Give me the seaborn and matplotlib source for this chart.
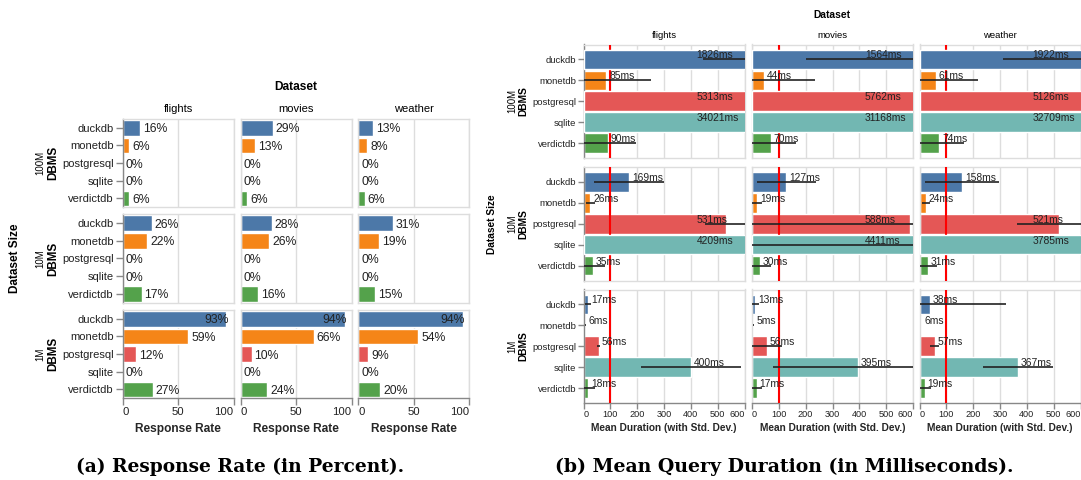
import matplotlib
matplotlib.use("Agg")
import numpy as np
import pandas as pd
import seaborn as sns
import matplotlib.pyplot as plt

# ---------------- data ----------------
DBMS = ["duckdb", "monetdb", "postgresql", "sqlite", "verdictdb"]
DATASETS = ["flights", "movies", "weather"]
SIZES = ["100M", "10M", "1M"]
COLORS = ["#4c78a8", "#f58518", "#e45756", "#72b7b2", "#54a24b"]

# response rate in percent, rows = dataset size (100M, 10M, 1M)
rate_flights = [[16, 6, 0, 0, 6], [26, 22, 0, 0, 17], [93, 59, 12, 0, 27]]
rate_movies = [[29, 13, 0, 0, 6], [28, 26, 0, 0, 16], [94, 66, 10, 0, 24]]
rate_weather = [[13, 8, 0, 0, 6], [31, 19, 0, 0, 15], [94, 54, 9, 0, 20]]

# mean query duration in ms
mean_flights = [[1826, 85, 5313, 34021, 90], [169, 26, 531, 4209, 35], [17, 6, 56, 400, 18]]
mean_movies = [[1564, 44, 5762, 31168, 70], [127, 19, 588, 4411, 30], [13, 5, 56, 395, 17]]
mean_weather = [[1922, 61, 5126, 32709, 74], [158, 24, 521, 3785, 31], [38, 6, 57, 367, 19]]

# standard deviation in ms (estimated from the visible whiskers)
std_flights = [[1382, 167, 2000, 5000, 106], [130, 17, 80, 1500, 45], [12, 2, 5, 187, 23]]
std_movies = [[1362, 192, 2000, 5000, 93], [110, 18, 600, 4500, 40], [12, 1, 55, 318, 19]]
std_weather = [[1612, 157, 2000, 5000, 93], [138, 16, 158, 1500, 36], [284, 1, 17, 131, 22]]

RATES = {"flights": rate_flights, "movies": rate_movies, "weather": rate_weather}
MEANS = {"flights": mean_flights, "movies": mean_movies, "weather": mean_weather}
STDS = {"flights": std_flights, "movies": std_movies, "weather": std_weather}

rows = []
for ds in DATASETS:
    for si, size in enumerate(SIZES):
        for di, db in enumerate(DBMS):
            rows.append(dict(dataset=ds, dsize=size, dbms=db,
                             rate=RATES[ds][si][di],
                             mean=MEANS[ds][si][di],
                             std=STDS[ds][si][di]))
df = pd.DataFrame(rows)

# ---------------- style ----------------
sns.set_theme(style="white")
plt.rcParams["font.family"] = ["Liberation Sans", "DejaVu Sans"]
plt.rcParams["text.color"] = "#000000"

W, H = 1081, 480
fig = plt.figure(figsize=(W / 100, H / 100), dpi=100)


def px_axes(x0, y0, w, h):
    return fig.add_axes([x0 / W, 1 - (y0 + h) / H, w / W, h / H])


def fx(x):
    return x / W


def fy(y):
    return 1 - y / H


GRID = "#dddddd"
DOMAIN = "#888888"


def style_axes(ax, ci, ri, xmax, ticks, lab_size, num_size, tick_len, pad):
    ax.set_xlim(0, xmax)
    ax.set_xticks(ticks, labels=[str(t) for t in ticks])
    ax.grid(axis="x", color=GRID, lw=1)
    ax.grid(axis="y", visible=False)
    ax.set_axisbelow(True)
    for sp in ax.spines.values():
        sp.set_color(GRID)
        sp.set_linewidth(1)
    if ci == 0:
        ax.spines["left"].set_color(DOMAIN)
    if ri == 2:
        ax.spines["bottom"].set_color(DOMAIN)
    ax.tick_params(axis="y", left=(ci == 0), labelleft=(ci == 0), length=tick_len,
                   width=1, color=DOMAIN, labelsize=lab_size, pad=pad, labelcolor="#222")
    ax.tick_params(axis="x", bottom=(ri == 2), labelbottom=(ri == 2), length=tick_len,
                   width=1, color=DOMAIN, labelsize=num_size, pad=pad, labelcolor="#222")
    mticks = ax.xaxis.get_major_ticks()
    mticks[0].label1.set_horizontalalignment("left")
    mticks[-1].label1.set_horizontalalignment("right")
    ax.set_ylabel("")
    ax.set_xlabel("")


# ---------------- (a) response rate ----------------
LX = [122.7, 240.5, 358.2]
LW = 111
LY = [119, 214.3, 310]
LH = 88.3

for ri, size in enumerate(SIZES):
    for ci, ds in enumerate(DATASETS):
        ax = px_axes(LX[ci], LY[ri], LW, LH)
        sub = df[(df.dataset == ds) & (df.dsize == size)]
        sns.barplot(data=sub, x="rate", y="dbms", hue="dbms", order=DBMS, hue_order=DBMS,
                    palette=COLORS, saturation=1, width=0.9, legend=False,
                    errorbar=None, orient="h", ax=ax)
        style_axes(ax, ci, ri, 100, [0, 50, 100], 8.0, 8.2, 5, 1.5)
        for i, v in enumerate(sub["rate"]):
            ax.annotate(f"{v}%", xy=(min(v, 71), i), xytext=(3, 0),
                        textcoords="offset pixels", ha="left", va="center_baseline",
                        fontsize=8.8, color="#222", zorder=6)
        if ri == 2:
            ax.set_xlabel("Response Rate", fontsize=8.6, fontweight="bold", labelpad=4)
    fig.text(fx(40), fy(LY[ri] + LH / 2), size, rotation=90, ha="center", va="center",
             fontsize=7.0)
    fig.text(fx(53), fy(LY[ri] + LH / 2), "DBMS", rotation=90, ha="center", va="center",
             fontsize=8.4, fontweight="bold")

for ci, ds in enumerate(DATASETS):
    fig.text(fx(LX[ci] + LW / 2), fy(109), ds, ha="center", va="center", fontsize=8.0)
fig.text(fx((LX[0] + LX[2] + LW) / 2), fy(87), "Dataset", ha="center", va="center",
         fontsize=8.6, fontweight="bold")
fig.text(fx(15), fy((LY[0] + LY[2] + LH) / 2), "Dataset Size", rotation=90, ha="center",
         va="center", fontsize=8.5, fontweight="bold")

# ---------------- (b) mean duration ----------------
RX = [583.5, 752, 919.5]
RW = 161
RY = [44.5, 167, 289.5]
RH = 113.5
XMAX = 600

for ri, size in enumerate(SIZES):
    for ci, ds in enumerate(DATASETS):
        ax = px_axes(RX[ci], RY[ri], RW, RH)
        sub = df[(df.dataset == ds) & (df.dsize == size)]
        sns.barplot(data=sub, x="mean", y="dbms", hue="dbms", order=DBMS, hue_order=DBMS,
                    palette=COLORS, saturation=1, width=0.94, legend=False,
                    errorbar=None, orient="h", ax=ax)
        style_axes(ax, ci, ri, XMAX, [0, 100, 200, 300, 400, 500, 600], 6.8, 6.6, 4, 1.2)
        for p in ax.patches:
            p.set_zorder(4 if p.get_width() > XMAX else 2)
        ax.axvline(100, color="#ff0000", lw=1.5, zorder=3)
        means = sub["mean"].to_numpy()
        stds = sub["std"].to_numpy()
        ax.errorbar(means, np.arange(len(DBMS)), xerr=stds, fmt="none", ecolor="#222222",
                    elinewidth=1.2, capsize=0, zorder=5)
        for i, (m, s) in enumerate(zip(means, stds)):
            ax.annotate(f"{m}ms", xy=(min(m, 410), i), xytext=(3, 1),
                        textcoords="offset pixels", ha="left", va="baseline",
                        fontsize=7.4, color="#222", zorder=6)
        if ri == 2:
            ax.set_xlabel("Mean Duration (with Std. Dev.)", fontsize=7.3,
                          fontweight="bold", labelpad=3)
    fig.text(fx(512), fy(RY[ri] + RH / 2), size, rotation=90, ha="center", va="center",
             fontsize=6.9)
    fig.text(fx(523), fy(RY[ri] + RH / 2), "DBMS", rotation=90, ha="center", va="center",
             fontsize=7.4, fontweight="bold")

for ci, ds in enumerate(DATASETS):
    fig.text(fx(RX[ci] + RW / 2), fy(35), ds, ha="center", va="center", fontsize=6.8)
fig.text(fx((RX[0] + RX[2] + RW) / 2), fy(15), "Dataset", ha="center", va="center",
         fontsize=7.4, fontweight="bold")
fig.text(fx(492), fy((RY[0] + RY[2] + RH) / 2), "Dataset Size", rotation=90, ha="center",
         va="center", fontsize=7.3, fontweight="bold")

# ---------------- captions ----------------
CAP_FONT = ["DejaVu Serif", "Liberation Serif"]
fig.text(fx(240), fy(467), "(a) Response Rate (in Percent).", ha="center", va="center",
         family=CAP_FONT, fontweight="bold", fontsize=13.4)
fig.text(fx(784), fy(467), "(b) Mean Query Duration (in Milliseconds).", ha="center",
         va="center", family=CAP_FONT, fontweight="bold", fontsize=13.6)

fig.savefig("out.png", dpi=100)
